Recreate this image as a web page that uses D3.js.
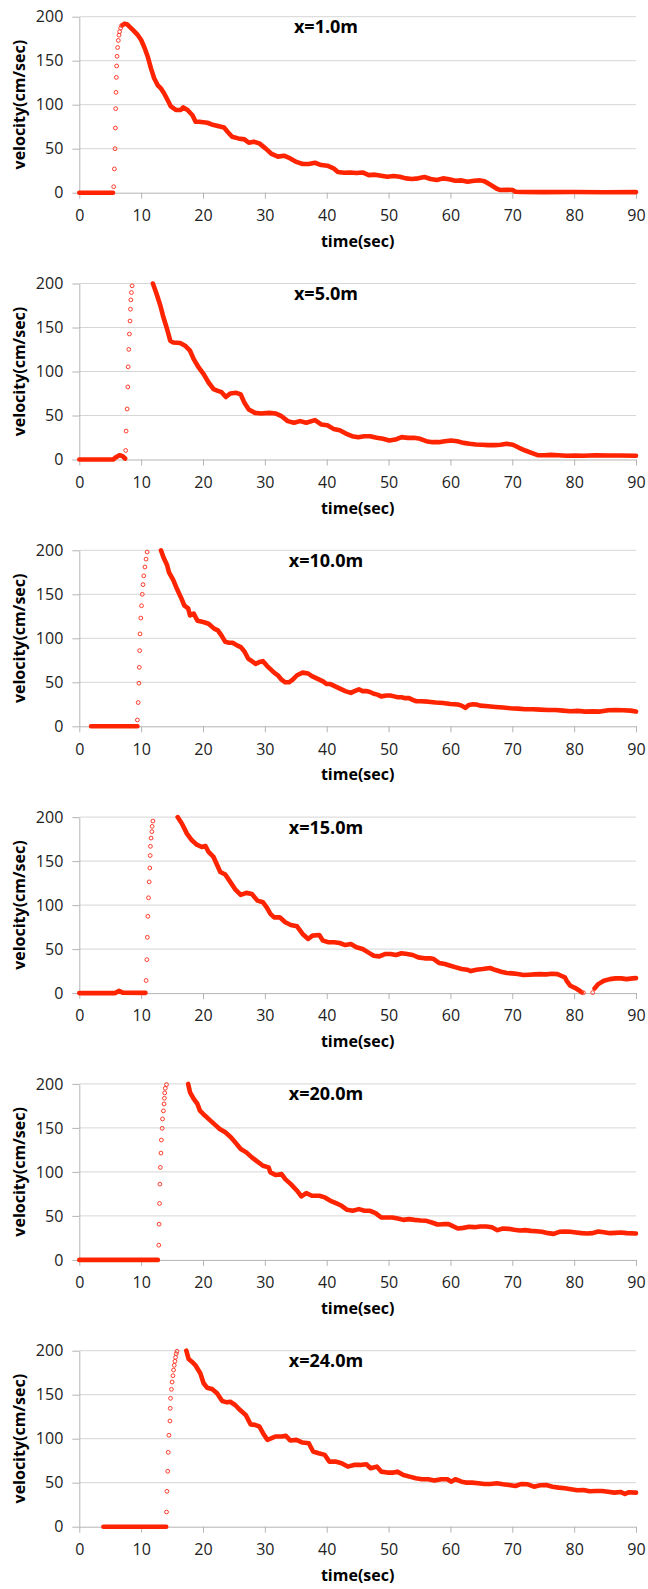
<!DOCTYPE html>
<html>
<head>
<meta charset="utf-8">
<script src="https://cdn.jsdelivr.net/npm/d3@7"></script>
<style>
    body { margin: 0; background: #fff; }
    svg { display: block; }
    text { font-family: "Open Sans", sans-serif; }
</style>
</head>
<body>
<div id="chart"></div>
<script>
//-----------------------------Data (time in sec, velocity in cm/sec)
var stations = ["x=1.0m", "x=5.0m", "x=10.0m", "x=15.0m", "x=20.0m", "x=24.0m"];
var xTicks = [0, 10, 20, 30, 40, 50, 60, 70, 80, 90];
var yTicks = [0, 50, 100, 150, 200];

// dense part of each record (null = no samples there)
var trace1 = [[0, 0], [5.45, 0], null,
    [7.0, 190.5], [7.3, 192], [7.7, 191.5], [7.86, 190.5], [8.66, 185], [9.47, 179], [10.0, 173.5], [10.53, 165],
    [11.07, 154.5], [11.6, 141], [12.1, 130], [12.7, 122], [13.2, 118.5], [13.7, 113], [14.3, 105], [14.8, 98],
    [15.6, 94], [16.4, 94], [16.8, 97], [17.5, 94], [18.3, 88], [18.8, 80.7], [19.4, 80.7], [20.7, 79.5],
    [21.4, 77.6], [22.4, 75.8], [23.4, 74], [24.0, 69], [24.7, 63.6], [25.7, 61.7], [26.7, 60.6], [27.4, 56.8],
    [28.2, 58], [29.1, 56], [30.1, 50.4], [31.1, 44], [32.1, 41], [33.1, 42], [34.1, 39], [35.1, 35],
    [36.1, 32.6], [37.1, 32.6], [38.1, 34], [39.1, 31.4], [40.1, 30.7], [41.1, 27.7], [41.8, 23.5], [42.8, 22.7],
    [43.8, 23], [44.8, 22.3], [45.8, 23], [46.8, 20], [47.8, 20.5], [48.8, 19.3], [49.8, 18.2], [50.8, 18.9],
    [51.8, 18.2], [52.8, 16.3], [53.8, 15.5], [54.8, 16.3], [55.8, 17.8], [56.8, 15.5], [57.8, 14.4], [58.8, 16.3],
    [59.8, 15.2], [60.8, 13.6], [61.8, 14], [62.8, 12.5], [63.8, 13.6], [64.8, 14], [65.5, 12.9], [66.1, 10.6],
    [66.8, 7.6], [67.5, 4.5], [68.1, 3], [69.1, 3.4], [70.1, 3], [70.5, 1.1], [71.5, 0.8], [75, 0.6],
    [80, 0.8], [85, 0.5], [90, 0.7]];
var trace2 = [[0, 0], [5.5, 0], [5.8, 1.9], [6.5, 4.9], [7.0, 3.8], [7.4, 1.1], null,
    [11.9, 200], [12.5, 188], [13.1, 175], [13.6, 161.6], [14.2, 148], [14.7, 135], [15.2, 133], [16.3, 132.3],
    [17.1, 129.3], [17.9, 123.6], [18.5, 114], [19.3, 104.6], [20.1, 97], [20.9, 87.5], [21.7, 80], [22.4, 78],
    [23.0, 76.5], [23.7, 71], [24.4, 75], [25.4, 75.8], [26.1, 73.9], [26.7, 64.4], [27.4, 56.8], [28.4, 53],
    [29.4, 52.3], [30.7, 53], [31.7, 52.3], [32.7, 49.2], [33.7, 43.6], [34.7, 41.7], [35.7, 43.6], [36.7, 41.7],
    [38.1, 44.7], [39.1, 39.8], [40.1, 39], [41.1, 34.8], [42.1, 33.3], [43.1, 29.5], [44.1, 26.5], [45.1, 25.4],
    [46.1, 26.5], [47.0, 26.5], [48.1, 24.6], [49.1, 23.5], [50.1, 21.6], [51.1, 22.7], [52.1, 25.4], [53.1, 24.6],
    [54.1, 24.6], [55.1, 23.5], [56.1, 20.8], [57.1, 19.7], [58.1, 19.7], [59.1, 20.8], [60.1, 21.6], [61.1, 20.8],
    [62.1, 18.9], [63.1, 17.8], [64.1, 17], [65.1, 16.7], [66.1, 16.3], [67.1, 16.3], [68.1, 16.7], [69.1, 17.8],
    [70.1, 16.7], [71.1, 13.3], [72.1, 10.2], [73.1, 7.6], [74.1, 4.9], [75.2, 4.9], [76.2, 5.3], [77.5, 4.9],
    [78.8, 4.2], [80.2, 4.5], [81.5, 4.2], [83.5, 4.9], [85.5, 4.5], [87.5, 4.5], [90, 4.2]];
var trace3 = [[1.9, 0], [9.4, 0], null,
    [13.2, 200], [13.6, 192], [14.2, 183], [14.5, 175], [15.2, 166], [15.8, 156], [16.4, 147], [17.0, 137],
    [17.6, 134], [17.9, 126], [18.5, 128], [19.1, 120], [19.7, 119], [20.3, 118], [20.9, 116.5], [21.8, 111],
    [22.4, 109], [23.0, 103], [23.6, 96], [24.2, 95], [24.8, 95], [25.5, 92], [26.1, 90], [26.7, 85],
    [27.3, 77], [27.9, 74], [28.5, 71], [29.1, 73], [29.7, 74], [30.3, 69], [30.9, 65], [31.5, 61],
    [32.1, 58], [32.7, 53], [33.3, 50], [33.9, 50], [34.5, 53], [35.2, 58], [36.1, 61], [37.0, 60],
    [37.6, 57], [38.2, 55], [38.8, 53], [39.4, 51], [40.0, 48], [40.6, 48], [41.2, 46], [41.8, 44],
    [42.4, 42], [43.0, 40], [43.9, 38], [44.5, 40], [45.2, 42], [45.8, 40], [46.4, 40], [47.0, 39],
    [47.6, 37], [48.2, 36], [48.8, 34], [49.7, 35], [50.3, 35], [50.9, 34], [51.5, 33], [52.1, 33],
    [52.7, 32], [53.3, 32], [53.9, 30], [54.5, 28.5], [55.2, 28.5], [56.4, 28], [57.6, 27], [58.8, 26.5],
    [60.0, 25.4], [61.2, 24.7], [61.8, 23.5], [62.4, 21], [63.0, 24.3], [63.6, 25], [64.2, 24.7], [64.8, 23.5],
    [66.1, 22.8], [67.3, 22], [68.5, 21.3], [69.7, 20.5], [70.9, 20.1], [72.1, 19.4], [73.3, 19.4], [74.5, 19],
    [75.8, 18.6], [77.0, 18.6], [78.2, 17.8], [79.4, 17.1], [80.6, 17.5], [81.8, 16.7], [83.0, 17], [84.2, 16.7],
    [85.5, 18.2], [86.7, 18.6], [87.9, 18.2], [89.1, 17.8], [90, 16.7]];
var trace4 = [[0, 0], [5.8, 0], [6.4, 2.5], [7.0, 0.5], [10.7, 0.3], null,
    [15.9, 200], [16.6, 192.5], [17.4, 181.2], [18.2, 173.6], [19.0, 168.7], [19.8, 166], [20.4, 167.2], [20.9, 160.4],
    [21.7, 154.7], [22.3, 145.3], [22.8, 137.7], [23.6, 134.8], [24.4, 126.4], [25.2, 118], [26.1, 111.6], [27.0, 113.9],
    [27.9, 112.7], [28.8, 105.1], [29.7, 103.2], [30.3, 97.5], [30.9, 90], [31.5, 86.1], [32.4, 86.1], [33.3, 80.5],
    [34.2, 77.4], [35.2, 75.9], [36.1, 67.2], [37.0, 61.5], [37.7, 65.3], [38.8, 66], [39.4, 59.6], [40.3, 57.7],
    [41.2, 57.7], [42.1, 56.9], [43.0, 54.6], [43.9, 55.8], [44.8, 52], [45.8, 50.1], [46.7, 46.3], [47.6, 42.5],
    [48.5, 41.7], [49.4, 44.4], [50.3, 44.4], [51.2, 43.3], [52.1, 45.2], [53.0, 44.4], [53.9, 43.3], [54.8, 40.6],
    [55.8, 39.5], [56.7, 39.5], [57.3, 38.7], [58.2, 34.2], [59.1, 33], [60.0, 31.1], [60.9, 29.2], [61.8, 27.3],
    [62.7, 26.6], [63.3, 25], [64.2, 26.6], [65.2, 27.3], [66.4, 28.5], [67.3, 26.2], [68.2, 24.3], [69.1, 22.8],
    [70.0, 22.4], [70.9, 21.6], [71.8, 20.5], [72.7, 20.9], [73.6, 21.3], [74.5, 21.6], [75.5, 21.3], [76.4, 22],
    [77.3, 21.6], [77.9, 19.7], [78.5, 17.8], [78.8, 14], [79.4, 8.3], [80.3, 5.3], [80.9, 2.7], [81.2, 0.8], null,
    [83.3, 5.3], [83.9, 10.2], [84.8, 14], [85.8, 15.9], [86.7, 16.7], [87.6, 16.7], [88.5, 15.9], [89.4, 16.7],
    [90, 17]];
var trace5 = [[0, 0], [12.7, 0], null,
    [17.6, 200], [17.9, 190.5], [18.5, 183], [19.1, 177.2], [19.5, 169.6], [20.3, 164], [21.2, 158.3], [22.1, 152.6],
    [22.7, 148.8], [23.6, 145], [24.5, 139.3], [25.2, 133.6], [26.1, 126], [27.0, 122.2], [27.9, 116.5], [28.8, 111.6],
    [29.7, 107], [30.6, 105.1], [30.9, 99.4], [31.8, 96.4], [32.7, 97.5], [33.3, 91.8], [34.2, 86.1], [35.2, 78.6],
    [35.9, 72.1], [36.7, 75.9], [37.6, 72.9], [38.8, 72.9], [39.7, 71], [40.6, 67.2], [41.5, 64.5], [42.4, 61.5],
    [43.3, 56.9], [44.2, 55.8], [45.2, 57.7], [46.1, 55.8], [47.0, 55.8], [47.9, 53.1], [48.8, 48.2], [49.7, 48.2],
    [50.6, 48.2], [51.5, 47.1], [52.4, 45.5], [53.3, 46.3], [54.2, 45.5], [55.2, 44.8], [56.1, 44.4], [57.0, 42.5],
    [57.9, 40.2], [58.8, 40.6], [59.7, 40.6], [60.3, 38.7], [61.2, 35.7], [62.1, 36.4], [63.0, 37.6], [63.9, 37.2],
    [64.8, 38], [65.8, 38], [66.7, 37.2], [67.6, 33.8], [68.5, 35.7], [69.4, 35.3], [70.3, 34.2], [71.2, 33.4],
    [72.1, 33.8], [73.0, 33], [73.9, 32.6], [74.8, 31.9], [75.8, 30.4], [76.7, 29.6], [77.6, 31.9], [78.5, 32.3],
    [79.4, 31.9], [80.3, 31.1], [81.2, 30.4], [82.1, 30], [83.0, 30.4], [83.9, 32.3], [84.8, 31.5], [85.8, 30.4],
    [86.7, 30.7], [87.6, 31.1], [88.5, 30.4], [90, 30]];
var trace6 = [[3.9, 0], [14.05, 0], null,
    [17.3, 200], [17.67, 190.6], [18.2, 187.5], [18.75, 183.7], [19.56, 174.3], [20.1, 163], [20.65, 158], [21.46, 156.5],
    [22.27, 151.6], [23.1, 142.8], [23.9, 141.3], [24.4, 142], [25.2, 138.3], [26.0, 132.6], [26.9, 127], [27.7, 116.3],
    [28.4, 115.7], [29.1, 113.9], [29.7, 106.3], [30.4, 98.7], [31.1, 100.6], [31.7, 102.5], [32.7, 102.5], [33.4, 103.2],
    [34.1, 97.9], [35.1, 98.7], [36.1, 95.6], [37.1, 94.9], [37.8, 85.4], [38.7, 83.5], [39.7, 81.6], [40.4, 74],
    [41.4, 74], [42.4, 72.1], [43.4, 68.3], [44.4, 70.2], [45.4, 70.2], [46.4, 71], [47.1, 66.4], [48.1, 68.3],
    [48.8, 62.6], [49.8, 61.5], [50.8, 61.5], [51.4, 62.6], [52.4, 58.8], [53.4, 56.9], [54.4, 55], [55.4, 53.9],
    [56.4, 53.9], [57.4, 52.4], [58.5, 53.9], [59.5, 53.9], [60.1, 51.2], [60.8, 53.9], [61.8, 51.2], [62.5, 50.1],
    [63.5, 50.1], [64.5, 49.3], [65.5, 48.6], [66.5, 48.6], [67.5, 49.3], [68.5, 48.2], [69.5, 47.4], [70.5, 46.3],
    [71.5, 48.6], [72.5, 48.2], [73.5, 45.5], [74.5, 47.1], [75.5, 47.4], [76.5, 45.5], [77.5, 44.4], [78.5, 43.6],
    [79.5, 42.5], [80.5, 41.4], [81.5, 41.7], [82.5, 40.2], [83.5, 40.6], [84.5, 40.6], [85.5, 39.8], [86.5, 38.7],
    [87.5, 39.5], [88.2, 37.2], [88.8, 39.1], [90, 38.7]];

// sparse samples during the fast rise (drawn as single markers)
var rise1 = [[5.56, 6.8], [5.67, 27], [5.78, 50], [5.83, 73.5], [5.88, 95.5], [5.94, 114], [5.99, 131], [6.04, 144],
    [6.10, 155], [6.2, 165], [6.31, 173], [6.42, 179], [6.52, 183], [6.68, 187], [6.84, 190]];
var rise2 = [[7.5, 10.3], [7.57, 32.3], [7.73, 57.4], [7.84, 82.5], [7.9, 105.3], [8.0, 125.1], [8.1, 142.6],
    [8.2, 157.4], [8.27, 170.8], [8.33, 181.4], [8.43, 189.7], [8.54, 197.4]];
var rise3 = [[9.39, 7.2], [9.52, 27], [9.64, 49], [9.70, 67], [9.76, 86], [9.82, 105], [9.94, 123], [10.06, 137],
    [10.18, 150], [10.30, 161], [10.42, 171], [10.61, 181], [10.79, 190], [10.97, 198]];
var rise4 = [[10.8, 14.3], [10.92, 38], [11.0, 63.4], [11.08, 87.2], [11.19, 108.3], [11.3, 126.4], [11.4, 142.2],
    [11.46, 156.3], [11.5, 166.8], [11.6, 176.2], [11.73, 183.5], [11.78, 189.5], [11.9, 195.5], [81.5, 0.4], [83.0, 0.6]];
var rise5 = [[12.85, 16.7], [12.9, 40.6], [12.97, 64.1], [13.03, 86.1], [13.1, 105.1], [13.2, 121.4], [13.27, 136.2],
    [13.4, 149.5], [13.45, 160.2], [13.6, 169.3], [13.7, 177.2], [13.76, 183.7], [13.8, 189.8], [13.9, 195], [14.1, 199.2]];
var rise6 = [[14.1, 16.7], [14.17, 40.2], [14.3, 63], [14.38, 84.5], [14.49, 103.9], [14.65, 120.1], [14.7, 134.5],
    [14.75, 145.9], [14.9, 156.1], [15.0, 164.4], [15.14, 171.6], [15.24, 178], [15.35, 183.4], [15.46, 188],
    [15.56, 192.5], [15.67, 196.6], [15.79, 199.3]];

var traces = [trace1, trace2, trace3, trace4, trace5, trace6];
var rises = [rise1, rise2, rise3, rise4, rise5, rise6];

//-----------------------------Layout
var w = 648;
var h = 1589;
var left = 79.3;
var right = 636;
var firstTop = 16.7;
var plotH = 176;
var pitch = 266.8;
var red = "#ff2400";

var svg = d3.select("#chart")
    .append("svg")
    .attr("width", w)
    .attr("height", h);

var x = d3.scaleLinear().domain([0, 90]).range([left, right]);
var y = d3.scaleLinear().domain([0, 200]).range([plotH, 0]);

var line = d3.line()
    .defined(function(d) { return d != null; })
    .x(function(d) { return x(d[0]); })
    .y(function(d) { return y(d[1]); });

stations.forEach(function(name, i) {
    var g = svg.append("g")
        .attr("transform", "translate(0," + (firstTop + i * pitch) + ")");

    // gridlines
    g.selectAll(".grid")
        .data(yTicks.slice(1))
        .enter()
        .append("line")
        .attr("x1", left)
        .attr("x2", right)
        .attr("y1", function(d) { return y(d); })
        .attr("y2", function(d) { return y(d); })
        .attr("stroke", "#d6d6d6")
        .attr("stroke-width", 1);

    // y axis
    var yAxis = g.append("g")
        .attr("transform", "translate(" + left + ",0)")
        .call(d3.axisLeft(y).tickValues(yTicks).tickSize(7).tickSizeOuter(0).tickPadding(9));

    // x axis
    var xAxis = g.append("g")
        .attr("transform", "translate(0," + y(0) + ")")
        .call(d3.axisBottom(x).tickValues(xTicks).tickSize(6).tickSizeOuter(0).tickPadding(11));

    [yAxis, xAxis].forEach(function(ax) {
        ax.select(".domain").attr("stroke", "#b4b4b4");
        ax.selectAll(".tick line").attr("stroke", "#b4b4b4");
        ax.selectAll(".tick text")
            .attr("fill", "#222")
            .style("font-size", "16px")
            .style("font-family", "'Open Sans', sans-serif");
    });

    // dense samples
    g.append("path")
        .datum(traces[i])
        .attr("d", line)
        .attr("fill", "none")
        .attr("stroke", red)
        .attr("stroke-width", 4.6)
        .attr("stroke-linejoin", "round")
        .attr("stroke-linecap", "round");

    // sparse samples
    g.selectAll(".rise")
        .data(rises[i])
        .enter()
        .append("circle")
        .attr("cx", function(d) { return x(d[0]); })
        .attr("cy", function(d) { return y(d[1]); })
        .attr("r", 1.9)
        .attr("fill", "none")
        .attr("stroke", "#ff3b2a")
        .attr("stroke-width", 1);

    // titles
    g.append("text")
        .attr("x", 326)
        .attr("y", 16.5)
        .attr("text-anchor", "middle")
        .attr("font-weight", "bold")
        .attr("font-size", "18px")
        .attr("fill", "#000")
        .text(name);

    g.append("text")
        .attr("transform", "translate(25," + (plotH / 2) + ") rotate(-90)")
        .attr("text-anchor", "middle")
        .attr("font-weight", "bold")
        .attr("font-size", "16px")
        .attr("fill", "#000")
        .text("velocity(cm/sec)");

    g.append("text")
        .attr("x", (left + right) / 2)
        .attr("y", plotH + 54)
        .attr("text-anchor", "middle")
        .attr("font-weight", "bold")
        .attr("font-size", "16px")
        .attr("fill", "#000")
        .text("time(sec)");
});
</script>
</body>
</html>
